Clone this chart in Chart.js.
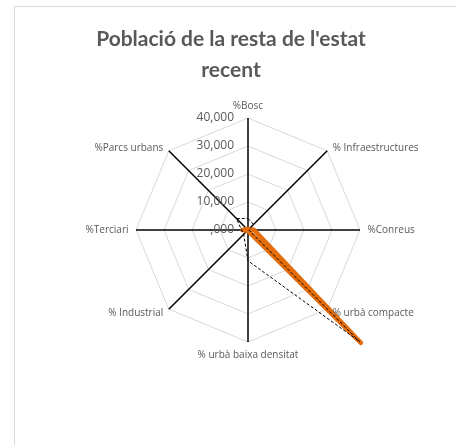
<!DOCTYPE html>
<html>
<head>
<meta charset="utf-8">
<script src="https://cdn.jsdelivr.net/npm/chart.js@4/dist/chart.umd.min.js"></script>
<style>
  html, body { margin: 0; padding: 0; background: #fff; overflow: hidden; }
  #frame { position: absolute; left: 14px; top: 6px; width: 488px; height: 460px; border: 1px solid #d9d9d9; }
  #frame canvas { display: block; }
</style>
</head>
<body>
<div id="frame"><canvas id="radarChart"></canvas></div>
<script>
// dades del gràfic
const titleLines = ["Població de la resta de l'estat", "recent"];
const categories = ["%Bosc", "% Infraestructures", "%Conreus", "% urbà compacte",
                    "% urbà baixa densitat", "% Industrial", "%Terciari", "%Parcs urbans"];
const tickValues = [0, 10, 20, 30, 40];
const tickLabels = [",000", "10,000", "20,000", "30,000", "40,000"];
const serie1 = [0.3, 0.5, 2.2, 57.0, 0.3, 0.4, 2.0, 0.5];
const serie2 = [4.1, 2.8, 0.3, 56.4, 11.0, 2.2, 2.3, 5.8];

const textGray = "#595959";

// etiquetes de l'eix i dels valors, dibuixades a partir de l'escala radial
const radarText = {
  id: "radarText",
  afterDraw(chart) {
    const ctx = chart.ctx;
    const r = chart.scales.r;
    ctx.save();
    ctx.fillStyle = textGray;

    // títol
    ctx.font = "bold 21px Lato";
    ctx.textAlign = "center";
    ctx.textBaseline = "middle";
    titleLines.forEach((t, i) => ctx.fillText(t, 216, 32 + i * 31));

    // valors de l'escala
    ctx.font = "12px 'Open Sans'";
    ctx.textAlign = "right";
    tickValues.forEach((v, i) => {
      const p = r.getPointPositionForValue(0, v);
      ctx.fillText(tickLabels[i], p.x - 14, p.y);
    });

    // noms de les categories
    ctx.font = "10px 'Open Sans'";
    categories.forEach((label, i) => {
      const end = r.getPointPosition(i, r.drawingArea);
      const dx = end.x - r.xCenter, dy = end.y - r.yCenter;
      let x = end.x, y = end.y;
      if (Math.abs(dx) < 1) {
        ctx.textAlign = "center";
        y += dy < 0 ? -11.5 : 13.5;
      } else if (Math.abs(dy) < 1) {
        ctx.textAlign = dx > 0 ? "left" : "right";
        x += dx > 0 ? 7.5 : -7.5;
      } else {
        ctx.textAlign = dx > 0 ? "left" : "right";
        x += dx > 0 ? 5.5 : -5.5;
        y += dy < 0 ? -2.5 : 3.5;
      }
      ctx.fillText(label, x, y);
    });
    ctx.restore();
  }
};

new Chart(document.getElementById("radarChart"), {
  type: "radar",
  data: {
    labels: categories,
    datasets: [
      {
        label: "Sèrie 2",
        data: serie2,
        borderColor: "#000",
        borderWidth: 1,
        borderDash: [3, 2],
        backgroundColor: "transparent",
        fill: false,
        pointRadius: 0,
        clip: false
      },
      {
        label: "Sèrie 1",
        data: serie1,
        borderColor: "#E46C0A",
        borderWidth: 4.5,
        borderJoinStyle: "round",
        backgroundColor: "transparent",
        fill: false,
        pointRadius: 0,
        clip: false
      }
    ]
  },
  options: {
    responsive: true,
    maintainAspectRatio: false,
    animation: false,
    layout: { padding: { left: 100, right: 122, top: 111, bottom: 125 } },
    plugins: {
      legend: { display: false },
      title: { display: false },
      tooltip: { enabled: false }
    },
    scales: {
      r: {
        min: 0,
        max: 40,
        ticks: { display: false, stepSize: 10 },
        pointLabels: { display: false },
        grid: { color: "#d9d9d9", lineWidth: 1 },
        angleLines: { color: "#000", lineWidth: 1.5 }
      }
    }
  },
  plugins: [radarText]
});
</script>
</body>
</html>
